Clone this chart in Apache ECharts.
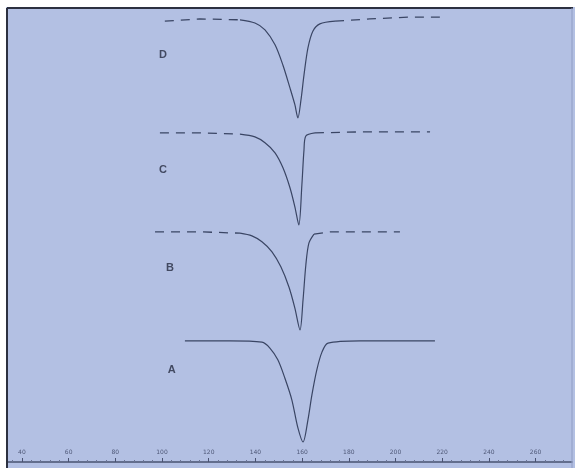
<!DOCTYPE html>
<html>
<head>
<meta charset="utf-8">
<script src="https://cdn.jsdelivr.net/npm/echarts@6/dist/echarts.min.js"></script>
<style>
  html, body { margin: 0; padding: 0; background: #fff; }
  #box { width: 575px; height: 468px; }
</style>
</head>
<body>
<div id="box"></div>
<script>
// tick labels on the temperature axis
let tickValues = [40, 60, 80, 100, 120, 140, 160, 180, 200, 220, 240, 260];

// curves, [temperature, heat flow]
let curveD = [
  [101.2, 97.1], [116.2, 97.6], [133.4, 97.4], [139.8, 96.7], [144.1, 95.2],
  [148.4, 91.9], [151.8, 87.4], [154.8, 82.4], [156.9, 78.7], [158.2, 75.8],
  [159.5, 79.7], [160.8, 85.2], [162.5, 91.2], [164.6, 94.9], [167.6, 96.5],
  [174.1, 97.1], [189.0, 97.6], [206.2, 98.0], [219.0, 98.0]
];
let curveC = [
  [99.1, 72.5], [116.2, 72.5], [133.4, 72.2], [139.8, 71.6], [144.1, 70.3],
  [148.4, 68.1], [151.8, 64.8], [154.8, 60.4], [156.9, 56.2], [158.6, 52.2],
  [159.9, 61.0], [160.8, 68.7], [161.6, 71.8], [165.5, 72.5], [184.8, 72.7],
  [214.8, 72.7]
];
let curveB = [
  [97.0, 50.7], [116.2, 50.7], [133.4, 50.4], [138.5, 49.8], [142.8, 48.5],
  [147.1, 46.3], [150.9, 43.0], [154.4, 38.5], [156.9, 33.9], [159.1, 29.1],
  [160.4, 35.7], [161.6, 43.4], [162.9, 48.2], [165.1, 50.2], [171.9, 50.7],
  [201.9, 50.7]
];
let curveA = [
  [109.8, 26.7], [129.1, 26.7], [142.8, 26.4], [146.2, 25.1], [149.6, 22.5],
  [152.6, 18.5], [155.6, 13.7], [158.2, 7.5], [160.4, 4.4], [162.5, 9.3],
  [164.2, 14.8], [166.3, 20.3], [168.5, 24.2], [171.1, 26.2], [184.8, 26.7],
  [216.9, 26.7]
];

// curve names and where they are written
let curveNames = ["D", "C", "B", "A"];
let namePos = [[100.4, 89.6], [100.4, 64.3], [103.4, 42.7], [104.2, 20.3]];

let chart = echarts.init(document.getElementById("box"), null, { renderer: "canvas" });

let lineColor = "#3a4564";
let curves = [curveD, curveC, curveB, curveA];
// where each peak leaves and rejoins the baseline (index into its curve)
let peakStart = [2, 2, 2, 0];
let peakEnd = [15, 13, 13, 15];

let series = [];
curves.forEach((c, i) => {
  let s0 = peakStart[i], s1 = peakEnd[i];
  let dashed = { color: lineColor, width: 1.3, type: [9, 7] };
  if (s0 > 0) {
    series.push({ type: "line", data: c.slice(0, s0 + 1), symbol: "none", lineStyle: dashed });
  }
  series.push({
    type: "line",
    name: curveNames[i],
    data: c.slice(s0, s1 + 1),
    smooth: 0.3,
    symbol: "none",
    lineStyle: { color: lineColor, width: 1.2 }
  });
  series.push({
    type: "line",
    data: c.slice(s1),
    symbol: "none",
    lineStyle: i === 3 ? { color: lineColor, width: 1.2 } : dashed
  });
});
series.push({
  type: "scatter",
  data: namePos.map((p, i) => ({ value: p, name: curveNames[i] })),
  symbolSize: 0,
  label: {
    show: true,
    position: "inside",
    formatter: p => p.name,
    color: "#252b40",
    fontSize: 11,
    fontWeight: "bold",
    fontFamily: "Liberation Sans Narrow, Liberation Sans"
  }
});

// small ticks between labels on the axis
let minorTicks = [];
tickValues.forEach(t => {
  for (let k = -16; k < 20; k += 4) {
    if (k !== 0) minorTicks.push(t + k);
  }
});

let option = {
  backgroundColor: "#b3c0e3",
  animation: false,
  grid: { left: 7, right: 3, top: 8, bottom: 6 },
  xAxis: [{
    type: "value",
    min: 33.6,
    max: 275.6,
    axisLine: { show: true, lineStyle: { color: "#4a5372", width: 1.5 } },
    axisTick: {
      show: true,
      inside: true,
      length: 4,
      customValues: tickValues,
      lineStyle: { color: "#4a5372" }
    },
    axisLabel: {
      show: true,
      inside: true,
      margin: 7,
      customValues: tickValues,
      color: "#4f5878",
      fontSize: 6,
      fontFamily: "DejaVu Sans"
    },
    splitLine: { show: false }
  }, {
    type: "value",
    position: "bottom",
    min: 33.6,
    max: 275.6,
    axisLine: { show: false },
    axisTick: {
      show: true,
      inside: true,
      length: 2,
      customValues: minorTicks,
      lineStyle: { color: "#6a7494" }
    },
    axisLabel: { show: false },
    splitLine: { show: false }
  }],
  yAxis: {
    type: "value",
    min: 0,
    max: 100,
    show: false,
    splitLine: { show: false }
  },
  graphic: [
    { type: "rect", shape: { x: 0, y: 0, width: 575, height: 7 }, style: { fill: "#fff" }, z: 100 },
    { type: "rect", shape: { x: 0, y: 0, width: 6, height: 468 }, style: { fill: "#fff" }, z: 100 },
    { type: "line", shape: { x1: 7, y1: 8, x2: 573, y2: 8 }, style: { stroke: "#2c3040", lineWidth: 2 }, z: 100 },
    { type: "line", shape: { x1: 7, y1: 8, x2: 7, y2: 468 }, style: { stroke: "#2c3040", lineWidth: 2 }, z: 100 },
    { type: "line", shape: { x1: 572, y1: 8, x2: 572, y2: 468 }, style: { stroke: "#8f9cc4", lineWidth: 1 }, z: 100 }
  ],
  series: series
};

chart.setOption(option);
</script>
</body>
</html>
